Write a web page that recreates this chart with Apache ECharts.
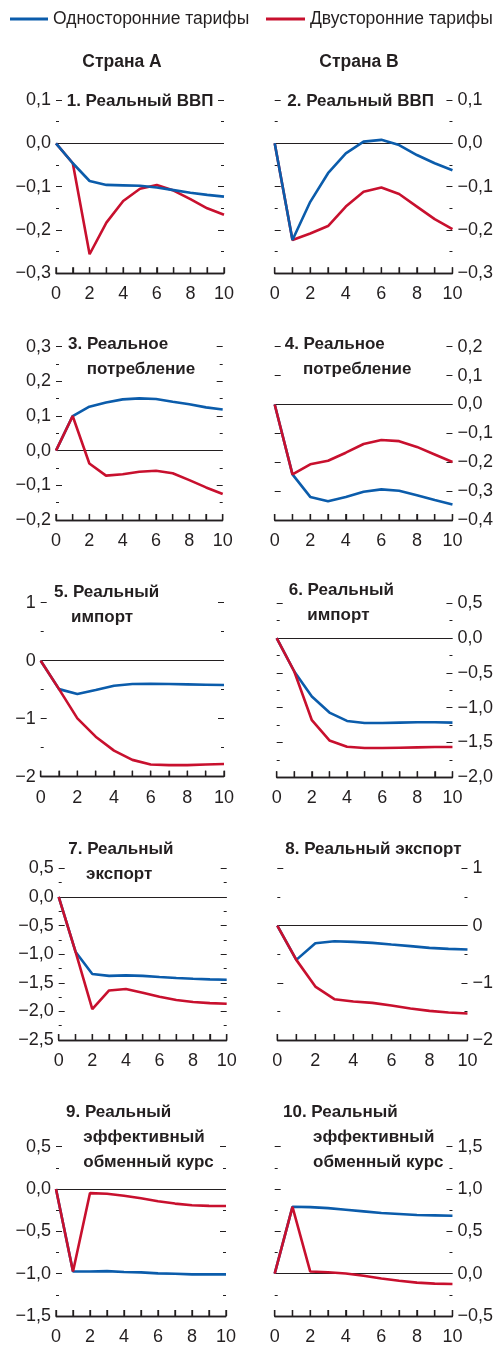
<!DOCTYPE html>
<html><head><meta charset="utf-8">
<script src="https://cdn.jsdelivr.net/npm/echarts@6/dist/echarts.min.js"></script>
<style>html,body{margin:0;padding:0;background:#fff}#c{width:496px;height:1346px}</style>
</head><body><div id="c"></div>
<script>
// ---------------- DATA ----------------
const steps = ['0','1','2','3','4','5','6','7','8','9','10'];
const seriesNames = ['Односторонние тарифы', 'Двусторонние тарифы'];
const columnHeaders = ['Страна A', 'Страна B'];
const panelTitles = [
  ['1. Реальный ВВП'],
  ['2. Реальный ВВП'],
  ['3. Реальное', 'потребление'],
  ['4. Реальное', 'потребление'],
  ['5. Реальный', 'импорт'],
  ['6. Реальный', 'импорт'],
  ['7. Реальный', 'экспорт'],
  ['8. Реальный экспорт'],
  ['9. Реальный', 'эффективный', 'обменный курс'],
  ['10. Реальный', 'эффективный', 'обменный курс']
];
// Panel 1: Real GDP, country A
const p1Uni = [0, -0.046, -0.087, -0.096, -0.097, -0.098, -0.102, -0.108, -0.114, -0.119, -0.123];
const p1Bi  = [0, -0.046, -0.256, -0.183, -0.133, -0.105, -0.096, -0.109, -0.129, -0.150, -0.165];
// Panel 2: Real GDP, country B
const p2Uni = [0, -0.223, -0.135, -0.069, -0.023, 0.004, 0.008, -0.004, -0.027, -0.046, -0.062];
const p2Bi  = [0, -0.223, -0.208, -0.191, -0.146, -0.112, -0.102, -0.117, -0.146, -0.175, -0.198];
// Panel 3: Real consumption, country A
const p3Uni = [0, 0.100, 0.127, 0.139, 0.148, 0.151, 0.149, 0.141, 0.134, 0.125, 0.119];
const p3Bi  = [0, 0.100, -0.037, -0.072, -0.068, -0.061, -0.058, -0.065, -0.085, -0.106, -0.125];
// Panel 4: Real consumption, country B
const p4Uni = [0, -0.242, -0.320, -0.335, -0.320, -0.302, -0.294, -0.299, -0.314, -0.331, -0.346];
const p4Bi  = [0, -0.242, -0.207, -0.195, -0.167, -0.137, -0.123, -0.127, -0.147, -0.173, -0.199];
// Panel 5: Real imports, country A
const p5Uni = [0, -0.49, -0.575, -0.506, -0.431, -0.402, -0.397, -0.402, -0.408, -0.414, -0.42];
const p5Bi  = [0, -0.49, -0.994, -1.31, -1.55, -1.71, -1.79, -1.80, -1.80, -1.79, -1.78];
// Panel 6: Real imports, country B
const p6Uni = [0, -0.48, -0.84, -1.07, -1.19, -1.22, -1.22, -1.215, -1.21, -1.21, -1.215];
const p6Bi  = [0, -0.48, -1.18, -1.47, -1.56, -1.58, -1.58, -1.575, -1.57, -1.565, -1.565];
// Panel 7: Real exports, country A
const p7Uni = [0, -0.957, -1.347, -1.38, -1.37, -1.38, -1.40, -1.418, -1.43, -1.44, -1.447];
const p7Bi  = [0, -0.957, -1.96, -1.634, -1.61, -1.673, -1.744, -1.80, -1.837, -1.855, -1.866];
// Panel 8: Real exports, country B
const p8Uni = [0, -0.60, -0.31, -0.274, -0.286, -0.303, -0.332, -0.36, -0.39, -0.408, -0.42];
const p8Bi  = [0, -0.60, -1.066, -1.287, -1.328, -1.351, -1.398, -1.45, -1.491, -1.52, -1.538];
// Panel 9: Real effective exchange rate, country A
const p9Uni = [0, -0.975, -0.975, -0.97, -0.98, -0.985, -0.996, -1.0, -1.008, -1.008, -1.008];
const p9Bi  = [0, -0.975, -0.048, -0.056, -0.08, -0.11, -0.145, -0.172, -0.191, -0.199, -0.2];
// Panel 10: Real effective exchange rate, country B
const p10Uni = [0, 0.79, 0.786, 0.774, 0.755, 0.736, 0.716, 0.705, 0.693, 0.689, 0.685];
const p10Bi  = [0, 0.79, 0.025, 0.017, 0.002, -0.025, -0.056, -0.083, -0.106, -0.118, -0.122];

// Y tick labels per panel (value lists)
const yTicks1 = [-0.3, -0.2, -0.1, 0.0, 0.1];
const yTicks2 = [-0.3, -0.2, -0.1, 0.0, 0.1];
const yTicks3 = [-0.2, -0.1, 0.0, 0.1, 0.2, 0.3];
const yTicks4 = [-0.4, -0.3, -0.2, -0.1, 0.0, 0.1, 0.2];
const yTicks5 = [-2, -1, 0, 1];
const yTicks6 = [-2.0, -1.5, -1.0, -0.5, 0.0, 0.5];
const yTicks7 = [-2.5, -2.0, -1.5, -1.0, -0.5, 0.0, 0.5];
const yTicks8 = [-2, -1, 0, 1];
const yTicks9 = [-1.5, -1.0, -0.5, 0.0, 0.5];
const yTicks10 = [-0.5, 0.0, 0.5, 1.0, 1.5];

// ---------------- LAYOUT / STYLE ----------------
const uniSeries = [p1Uni, p2Uni, p3Uni, p4Uni, p5Uni, p6Uni, p7Uni, p8Uni, p9Uni, p10Uni];
const biSeries  = [p1Bi, p2Bi, p3Bi, p4Bi, p5Bi, p6Bi, p7Bi, p8Bi, p9Bi, p10Bi];
const yTicks = [yTicks1, yTicks2, yTicks3, yTicks4, yTicks5, yTicks6, yTicks7, yTicks8, yTicks9, yTicks10];

const FONT = '"Liberation Sans", Arial, sans-serif';
const INK = '#231f20';
const BLUE = '#0b5cab';
const RED = '#c8102e';

const grids = [
  {left: 56,    top: 100,    width: 168,   height: 173.3},
  {left: 274.7, top: 100,    width: 180,   height: 173.3},
  {left: 56,    top: 346.7,  width: 166.7, height: 173.3},
  {left: 274.7, top: 346.7,  width: 180,   height: 173.3},
  {left: 40.7,  top: 602.7,  width: 183.3, height: 174},
  {left: 276.7, top: 603.3,  width: 176.3, height: 174},
  {left: 58.7,  top: 868.3,  width: 168,   height: 171.7},
  {left: 277.3, top: 868.3,  width: 191.4, height: 171.7},
  {left: 56,    top: 1146.7, width: 170,   height: 172.6},
  {left: 274.7, top: 1146.7, width: 180,   height: 172.6}
];
const minorOn = [true, true, true, false, true, true, true, true, true, true];
const decimals = [1, 1, 1, 1, 0, 1, 1, 0, 1, 1];
const blueOnTop = [true, true, false, false, false, false, false, false, false, false];
// title placement: [x first line, x following lines, baseline first line]
const titlePos = [
  [66.7, 66.7, 107.3], [287.3, 287.3, 107.3],
  [68, 86.7, 350], [284.7, 303, 350],
  [54, 71, 598.3], [288.7, 307.3, 596.7],
  [68.3, 86, 855], [285.3, 285.3, 855],
  [66, 83.3, 1118.3], [283, 313, 1118.3]
];
const TITLE_LINE = 25;

function fmt(dec) {
  return v => {
    const s = Math.abs(v).toFixed(dec).replace('.', ',');
    return (v < -1e-9 ? '\u2212' : '') + s;
  };
}

const legendBase = {icon: 'rect', itemHeight: 3, padding: 0, selectedMode: false,
  textStyle: {fontFamily: FONT, fontSize: 17.5, color: INK}};
const option = {
  animation: false,
  backgroundColor: '#fff',
  grid: [], xAxis: [], yAxis: [], series: [], graphic: [],
  legend: [
    Object.assign({data: [seriesNames[0]], left: 10, top: 10, itemWidth: 38}, legendBase),
    Object.assign({data: [seriesNames[1]], left: 266, top: 10, itemWidth: 39}, legendBase)
  ]
};

for (let i = 0; i < 10; i++) {
  const right = i % 2 === 1;
  const t = yTicks[i];
  const ymin = t[0], ymax = t[t.length - 1];
  const step = +(t[1] - t[0]).toFixed(6);
  option.grid.push(Object.assign({}, grids[i]));
  option.xAxis.push({
    gridIndex: i, type: 'category', data: steps, boundaryGap: false, position: 'bottom',
    axisLine: {show: true, onZero: false, lineStyle: {color: INK, width: 1.3}},
    axisTick: {show: true, inside: true, length: 6, interval: 0, lineStyle: {color: INK, width: 1.3}},
    axisLabel: {interval: 1, margin: 12, fontFamily: FONT, fontSize: 18, color: INK},
    splitLine: {show: false}
  });
  const yBase = {
    gridIndex: i, type: 'value', min: ymin, max: ymax, interval: step,
    axisLine: {show: false, onZero: false},
    axisTick: {show: true, inside: true, length: 6, lineStyle: {color: INK, width: 1}},
    minorTick: {show: minorOn[i], splitNumber: 2, length: 3, lineStyle: {color: INK, width: 1}},
    splitLine: {show: false}, minorSplitLine: {show: false}
  };
  option.yAxis.push(Object.assign({}, yBase, {
    position: right ? 'right' : 'left',
    axisLabel: {show: true, margin: 5, fontFamily: FONT, fontSize: 18, color: INK, formatter: fmt(decimals[i])}
  }));
  option.yAxis.push(Object.assign({}, yBase, {
    position: right ? 'left' : 'right',
    axisLabel: {show: false}
  }));
  const yIdx = i * 2;
  option.series.push({
    name: seriesNames[0], type: 'line', xAxisIndex: i, yAxisIndex: yIdx,
    data: uniSeries[i], symbol: 'none', color: BLUE,
    lineStyle: {color: BLUE, width: 2.6}, z: blueOnTop[i] ? 4 : 3,
    markLine: {silent: true, symbol: ['none', 'none'], label: {show: false},
      lineStyle: {color: INK, width: 1, type: 'solid'},
      data: [{yAxis: 0}, {yAxis: ymin, lineStyle: {color: INK, width: 1.3, type: 'solid'}}], z: 1}
  });
  option.series.push({
    name: seriesNames[1], type: 'line', xAxisIndex: i, yAxisIndex: yIdx,
    data: biSeries[i], symbol: 'none', color: RED,
    lineStyle: {color: RED, width: 2.6}, z: blueOnTop[i] ? 3 : 4
  });
  // bottom axis ticks (one per step, pointing up from the axis minimum)
  option.series.push({
    type: 'custom', xAxisIndex: i, yAxisIndex: yIdx, silent: true, clip: false, z: 2,
    data: steps.map((_, k) => [k]), encode: {x: 0},
    renderItem: (params, api) => {
      const p = api.coord([api.value(0), ymin]);
      return {type: 'line', shape: {x1: p[0], y1: p[1], x2: p[0], y2: p[1] - 6},
        style: {stroke: INK, lineWidth: 1.3}};
    }
  });
  // panel titles
  const [x0, x1, b0] = titlePos[i];
  panelTitles[i].forEach((line, k) => {
    option.graphic.push({
      type: 'text', silent: true, z: 10,
      style: {text: line, x: k === 0 ? x0 : x1, y: b0 + k * TITLE_LINE - 6,
        verticalAlign: 'middle', align: 'left',
        font: 'bold 17px ' + FONT, fill: INK}
    });
  });
}
// column headers
const headerX = [122, 359];
columnHeaders.forEach((h, k) => {
  option.graphic.push({
    type: 'text', silent: true,
    style: {text: h, x: headerX[k], y: 62, align: 'center', verticalAlign: 'middle',
      font: 'bold 17.5px ' + FONT, fill: INK}
  });
});

const chart = echarts.init(document.getElementById('c'), null, {renderer: 'canvas'});
chart.setOption(option);
</script>
</body></html>
